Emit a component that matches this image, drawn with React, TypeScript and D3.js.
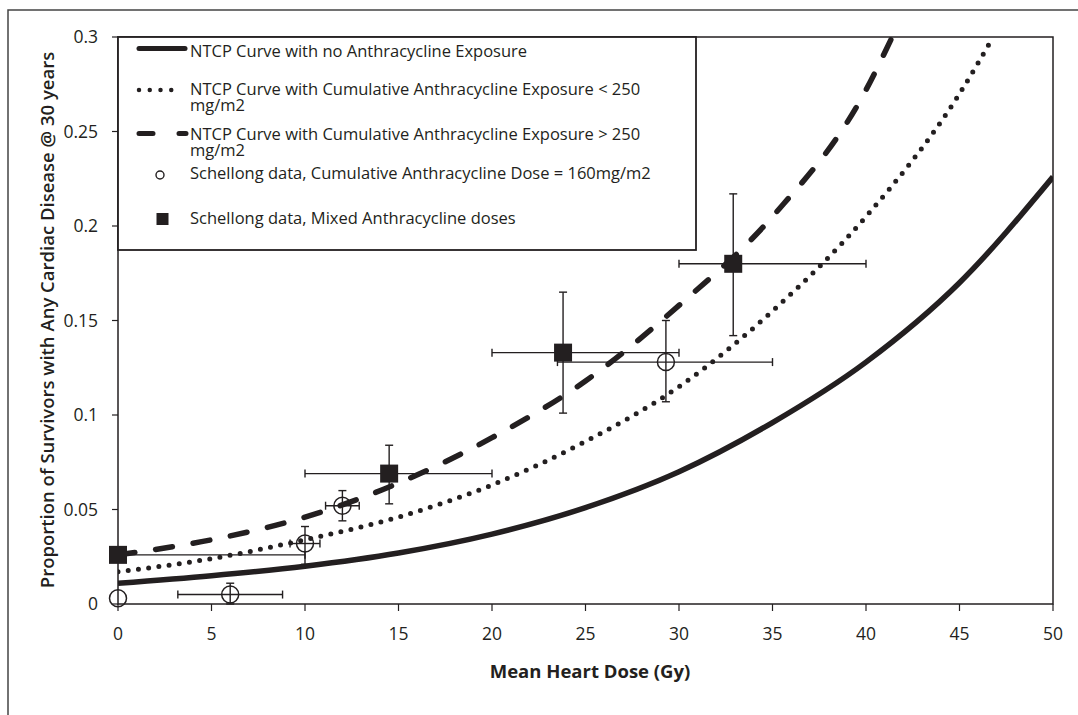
import * as d3 from "d3";

// NTCP curves at 5 Gy steps
const noneDose = [0, 5, 10, 15, 20, 25, 30, 35, 40, 45, 50];
const noneRisk = [0.011, 0.015, 0.02, 0.027, 0.037, 0.051, 0.07, 0.096, 0.128, 0.17, 0.226];

const lowDose = [0, 5, 10, 15, 20, 25, 30, 35, 40, 45, 46.8];
const lowRisk = [0.017, 0.024, 0.034, 0.046, 0.063, 0.086, 0.115, 0.155, 0.205, 0.27, 0.3];

const highDose = [0, 5, 10, 15, 20, 25, 30, 35, 40, 41.4];
const highRisk = [0.026, 0.034, 0.046, 0.064, 0.088, 0.118, 0.158, 0.205, 0.272, 0.3];

// Schellong data, 160 mg/m2 (open circles)
const circX = [0, 6, 10, 12, 29.3];
const circY = [0.003, 0.005, 0.032, 0.052, 0.128];
const circXLo = [null, 3.2, 9.2, 11.1, 23.5];
const circXHi = [null, 8.8, 10.8, 12.9, 35];
const circYLo = [null, 0, 0.021, 0.044, 0.107];
const circYHi = [null, 0.011, 0.041, 0.06, 0.15];

// Schellong data, mixed doses (filled squares)
const sqX = [0, 14.5, 23.8, 32.9];
const sqY = [0.026, 0.069, 0.133, 0.18];
const sqXLo = [0, 10, 20, 30];
const sqXHi = [10, 20, 30, 40];
const sqYLo = [null, 0.053, 0.101, 0.142];
const sqYHi = [null, 0.084, 0.165, 0.217];

const xTicks = [0, 5, 10, 15, 20, 25, 30, 35, 40, 45, 50];
const yTicks = [0, 0.05, 0.1, 0.15, 0.2, 0.25, 0.3];

const legendLabels = [
  ["NTCP Curve with no Anthracycline Exposure"],
  ["NTCP Curve with Cumulative Anthracycline Exposure < 250", "mg/m2"],
  ["NTCP Curve with Cumulative Anthracycline Exposure > 250", "mg/m2"],
  ["Schellong data, Cumulative Anthracycline Dose = 160mg/m2"],
  ["Schellong data, Mixed Anthracycline doses"],
];

const INK = "#231f20";
const FONT = "'Open Sans', 'Noto Sans', sans-serif";

export default function App() {
  const left = 118, right = 1053, top = 37, bottom = 604;
  const x = d3.scaleLinear().domain([0, 50]).range([left, right]);
  const y = d3.scaleLinear().domain([0, 0.3]).range([bottom, top]);

  const path = (xs: number[], ys: number[]) =>
    d3
      .line<number>()
      .x((_, i) => x(xs[i]))
      .y((v) => y(v))
      .curve(d3.curveMonotoneX)(ys) as string;

  const cap = 4;
  const errBars = (
    xs: number[], ys: number[],
    xlo: (number | null)[], xhi: (number | null)[],
    ylo: (number | null)[], yhi: (number | null)[], key: string
  ) =>
    xs.map((xv, i) => (
      <g key={key + i} stroke={INK} strokeWidth={1.4}>
        {xlo[i] != null && (
          <>
            <line x1={x(xlo[i]!)} x2={x(xhi[i]!)} y1={y(ys[i])} y2={y(ys[i])} />
            <line x1={x(xlo[i]!)} x2={x(xlo[i]!)} y1={y(ys[i]) - cap} y2={y(ys[i]) + cap} />
            <line x1={x(xhi[i]!)} x2={x(xhi[i]!)} y1={y(ys[i]) - cap} y2={y(ys[i]) + cap} />
          </>
        )}
        {ylo[i] != null && (
          <>
            <line x1={x(xv)} x2={x(xv)} y1={y(ylo[i]!)} y2={y(yhi[i]!)} />
            <line x1={x(xv) - cap} x2={x(xv) + cap} y1={y(ylo[i]!)} y2={y(ylo[i]!)} />
            <line x1={x(xv) - cap} x2={x(xv) + cap} y1={y(yhi[i]!)} y2={y(yhi[i]!)} />
          </>
        )}
      </g>
    ));

  // legend baselines (second line for wrapped entries)
  const rowBase = [56.5, 95, 140, 178.5, 224];
  const lineGap = 16;
  const tx = 190;

  return (
    <svg
      width={1078}
      height={715}
      style={{ position: "absolute", left: 0, top: 0, background: "#fff" }}
      fontFamily={FONT}
    >
      <defs>
        <clipPath id="plot">
          <rect x={left} y={top} width={right - left} height={bottom - top} />
        </clipPath>
      </defs>
      {/* outer frame (cropped) */}
      <path d="M8,715 V10 H1078" fill="none" stroke="#444" strokeWidth={1.5} />

      {/* plot frame */}
      <rect x={left} y={top} width={right - left} height={bottom - top} fill="none" stroke={INK} strokeWidth={1.5} />

      {/* y ticks */}
      {yTicks.map((t) => (
        <g key={"y" + t}>
          <line x1={left - 6} x2={left} y1={y(t)} y2={y(t)} stroke={INK} strokeWidth={1.2} />
          <text x={98} y={y(t)} dy="0.36em" textAnchor="end" fontSize={17.5} fill={INK}>
            {t}
          </text>
        </g>
      ))}
      {/* x ticks */}
      {xTicks.map((t) => (
        <g key={"x" + t}>
          <line x1={x(t)} x2={x(t)} y1={bottom} y2={bottom + 7} stroke={INK} strokeWidth={1.2} />
          <text x={x(t)} y={640} textAnchor="middle" fontSize={17.5} fill={INK}>
            {t}
          </text>
        </g>
      ))}

      <text x={590} y={678} textAnchor="middle" fontSize={18.5} fontWeight={700} fill={INK}>
        Mean Heart Dose (Gy)
      </text>
      <text
        transform="translate(54,320) rotate(-90)"
        textAnchor="middle"
        fontSize={18.5}
        fontWeight={600}
        fill={INK}
      >
        Proportion of Survivors with Any Cardiac Disease @ 30 years
      </text>

      {/* curves */}
      <g clipPath="url(#plot)" fill="none" stroke={INK}>
        <path d={path(noneDose, noneRisk)} strokeWidth={5.5} />
        <path d={path(lowDose, lowRisk)} strokeWidth={5} strokeDasharray="0 10.3" strokeLinecap="round" />
        <path d={path(highDose, highRisk)} strokeWidth={5.5} strokeDasharray="17 21" strokeLinecap="round" />
      </g>

      {/* error bars + markers */}
      {errBars(circX, circY, circXLo, circXHi, circYLo, circYHi, "c")}
      {errBars(sqX, sqY, sqXLo, sqXHi, sqYLo, sqYHi, "s")}
      {circX.map((xv, i) => (
        <circle key={"cm" + i} cx={x(xv)} cy={y(circY[i])} r={8.5} fill="none" stroke={INK} strokeWidth={1.5} />
      ))}
      {sqX.map((xv, i) => (
        <rect key={"sm" + i} x={x(xv) - 9} y={y(sqY[i]) - 9} width={18} height={18} fill={INK} />
      ))}

      {/* legend */}
      <rect x={left} y={top} width={696 - left} height={250 - top} fill="#fff" stroke={INK} strokeWidth={1.8} />
      <line x1={139} x2={185} y1={48.5} y2={48.5} stroke={INK} strokeWidth={5} strokeLinecap="round" />
      <line x1={139} x2={182} y1={90} y2={90} stroke={INK} strokeWidth={4.5} strokeDasharray="0 10.75" strokeLinecap="round" />
      <line x1={139} x2={186} y1={133.5} y2={133.5} stroke={INK} strokeWidth={5} strokeDasharray="14 26" strokeLinecap="round" />
      <circle cx={160} cy={175} r={4} fill="none" stroke={INK} strokeWidth={1.4} />
      <rect x={156.5} y={213} width={12} height={12} fill={INK} />
      {legendLabels.map((lines, i) => (
        <text key={"l" + i} x={tx} y={rowBase[i]} fontSize={16.5} fill={INK}>
          {lines.map((s, j) => (
            <tspan key={j} x={tx} y={rowBase[i] + j * lineGap}>
              {s}
            </tspan>
          ))}
        </text>
      ))}
    </svg>
  );
}
